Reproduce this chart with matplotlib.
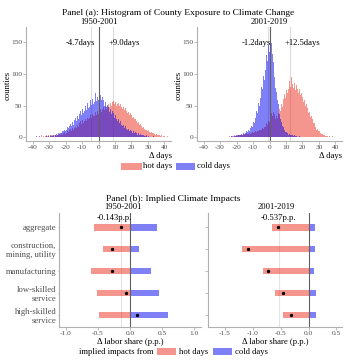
import numpy as np
import matplotlib
matplotlib.use("Agg")
import matplotlib.pyplot as plt
from matplotlib.patches import Rectangle

plt.rcParams['font.family'] = ['Liberation Serif', 'DejaVu Serif']
plt.rcParams['axes.unicode_minus'] = False

# ---------------- data ----------------
bin_start, bin_width = -38.0, 0.5

hot_1950 = [1,0,2,1,0,1,3,1,0,2, 1,2,4,1,2,3,1,2,3,2, 3,2,4,3,5,2,4,3,6,4,
            5,7,4,6,8,5,9,7,10,8, 11,9,13,10,14,12,15,11,16,14, 19,16,22,20,25,21,27,23,28,25,
            29,26,31,28,33,30,35,31,36,33, 37,33,39,35,41,37,42,38,44,40, 44,41,47,43,49,45,50,46,52,48,
            54,49,56,51,57,52,55,50,58,53, 54,49,52,47,50,45,48,43,46,41, 43,38,40,35,38,33,35,30,32,28,
            29,25,26,22,24,19,21,17,18,15, 16,13,14,11,12,10,11,8,9,7, 8,6,7,5,6,4,5,3,4,3,
            3,2,3,1,2,1,2,1,1,2]
cold_1950 = [2,1,0,1,2,0,1,1,0,1, 1,0,2,1,1,2,1,3,2,1, 2,3,1,4,3,5,4,6,5,7,
             8,6,10,9,12,10,14,12,16,14, 18,15,21,17,24,20,27,23,30,26, 33,29,37,32,41,35,45,38,48,42,
             50,43,54,46,56,48,58,51,60,53, 62,55,70,57,64,58,72,56,67,59, 63,53,58,50,55,47,51,43,48,40,
             44,37,41,34,38,31,35,28,32,26, 29,23,26,20,23,18,20,15,18,13, 15,11,13,10,12,8,10,7,9,6,
             8,5,7,4,6,4,5,3,4,3, 4,2,3,2,3,1,2,1,2,1, 1,1,2,0,1,1,0,1,0,1,
             0,1,0,0,1,0,0,1,0,0]
hot_2001 = [1,0,1,0,0,1,0,1,0,0, 1,0,0,1,0,1,1,0,1,0, 1,1,0,1,2,1,1,2,1,2,
            2,1,2,3,2,2,3,2,3,3, 3,4,3,4,5,4,5,4,6,5, 5,6,5,7,6,8,7,8,7,9,
            8,10,9,11,10,12,11,14,13,16, 18,16,22,20,26,24,32,28,38,34, 40,31,36,28,34,30,38,36,44,42,
            52,48,60,56,68,62,75,70,82,76, 88,80,95,84,90,78,86,74,82,76, 80,70,76,66,70,60,64,55,58,50,
            52,44,46,38,40,32,34,26,28,22, 22,16,17,12,13,9,10,7,7,5, 5,3,4,2,3,2,2,1,2,1,
            1,1,2,1,0,1,1,0,1,1]
cold_2001 = [0,1,0,0,1,0,0,0,1,0, 0,0,1,0,0,1,0,0,0,1, 1,0,1,0,1,1,0,1,1,2,
             1,2,1,2,2,3,2,3,3,4, 4,3,5,4,6,5,7,6,9,8, 11,10,14,13,18,16,24,22,32,30,
             42,38,54,50,66,62,80,76,96,90, 112,106,130,120,145,135,150,140,148,132, 118,100,95,78,72,58,52,40,36,28,
             24,18,16,12,11,8,8,6,6,4, 5,3,4,3,3,2,3,2,2,1, 2,1,2,1,1,1,1,0,1,1,
             1,0,1,1,0,1,0,0,1,0, 0,1,0,0,1,0,0,1,0,0, 1,0,0,1,0,0,1,0,0,1,
             0,0,1,0,0,1,0,0,1,0]

mean_lines_1950 = [-4.7, 9.0]
mean_lines_2001 = [-1.2, 12.5]
mean_labels_1950 = ["-4.7days", "+9.0days"]
mean_labels_2001 = ["-1.2days", "+12.5days"]

sectors = ["aggregate", "construction,\nmining, utility", "manufacturing",
           "low-skilled\nservice", "high-skilled\nservice"]
impact_hot_1950 = [-0.56, -0.42, -0.61, -0.52, -0.48]
impact_cold_1950 = [0.42, 0.14, 0.33, 0.45, 0.59]
impact_hot_2001 = [-0.66, -1.20, -0.82, -0.60, -0.46]
impact_cold_2001 = [0.12, 0.12, 0.09, 0.14, 0.14]
agg_label_1950 = "-0.143p.p."
agg_label_2001 = "-0.537p.p."
agg_value_1950 = -0.143
agg_value_2001 = -0.537

# ---------------- style ----------------
W, H = 356, 364
HOT = '#EA2E1E'
COLD = '#0000EE'
ALPHA = 0.5
SPINE = '#b0b0b0'
TICKC = '#4d4d4d'
FS_T = 6.8
FS_L = 6.2
FS = 5.3

fig = plt.figure(figsize=(W/100, H/100), dpi=100)

def fx(x):
    return x / W

def fy(y):
    return 1 - y / H

def make_ax(l, t, r, b):
    return fig.add_axes([fx(l), fy(b), (r - l) / W, (b - t) / H])

def style(ax):
    for s in ['top', 'right']:
        ax.spines[s].set_visible(False)
    for s in ['left', 'bottom']:
        ax.spines[s].set_color(SPINE)
        ax.spines[s].set_linewidth(0.8)
    ax.tick_params(colors=SPINE, labelcolor=TICKC, labelsize=FS, length=2,
                   width=0.6, pad=0.8)

# ---------------- panel (a) ----------------
edges = bin_start + bin_width * np.arange(len(hot_1950))
hist_sets = [(hot_1950, cold_1950, mean_lines_1950, mean_labels_1950, [-11.2, 15.5]),
             (hot_2001, cold_2001, mean_lines_2001, mean_labels_2001, [-7.7, 20.0])]
top_boxes = [(26, 27, 171, 141), (197, 27, 342, 141)]
for (hot, cold, lines, labels, lx), box in zip(hist_sets, top_boxes):
    ax = make_ax(*box)
    ax.bar(edges, hot, width=bin_width, align='edge', color=HOT, alpha=ALPHA, linewidth=0)
    ax.bar(edges, cold, width=bin_width, align='edge', color=COLD, alpha=ALPHA, linewidth=0)
    for v in lines:
        ax.axvline(v, color='#dcdcdc', lw=0.8, zorder=0.5)
    ax.axvline(0, color='#606060', lw=0.8)
    for t, x in zip(labels, lx):
        ax.text(x, 148, t, ha='center', va='center', fontsize=FS_L)
    ax.set_xlim(-44, 44)
    ax.set_ylim(-6, 174)
    ax.set_xticks(np.arange(-40, 41, 10))
    ax.set_yticks([0, 50, 100, 150])
    style(ax)

fig.text(fx(178), fy(13), "Panel (a): Histogram of County Exposure to Climate Change",
         ha='center', va='center', fontsize=FS_T)
fig.text(fx(99), fy(22), "1950-2001", ha='center', va='center', fontsize=FS_L)
fig.text(fx(269), fy(22), "2001-2019", ha='center', va='center', fontsize=FS_L)
fig.text(fx(7.5), fy(85), "counties", rotation=90, ha='center', va='center', fontsize=FS_L)
fig.text(fx(179), fy(85), "counties", rotation=90, ha='center', va='center', fontsize=FS_L)
fig.text(fx(172), fy(156.5), "Δ days", ha='right', va='center', fontsize=FS_L)
fig.text(fx(342), fy(156.5), "Δ days", ha='right', va='center', fontsize=FS_L)

# top legend
fig.patches.append(Rectangle((fx(121), fy(170)), 21 / W, 7 / H, transform=fig.transFigure,
                             color=HOT, alpha=ALPHA, lw=0))
fig.text(fx(143), fy(166.5), "hot days", ha='left', va='center', fontsize=FS_L)
fig.patches.append(Rectangle((fx(176), fy(170)), 19 / W, 7 / H, transform=fig.transFigure,
                             color=COLD, alpha=ALPHA, lw=0))
fig.text(fx(197), fy(166.5), "cold days", ha='left', va='center', fontsize=FS_L)

# ---------------- panel (b) ----------------
ypos = np.arange(len(sectors))
bottom_sets = [(impact_hot_1950, impact_cold_1950, agg_value_1950, agg_label_1950,
                (59, 213, 201, 327), (-1.11, 1.11), [-1.0, -0.5, 0.0, 0.5, 1.0], 114, 130),
               (impact_hot_2001, impact_cold_2001, agg_value_2001, agg_label_2001,
                (208, 213, 342, 327), (-1.8, 0.6), [-1.5, -1.0, -0.5, 0.0, 0.5], 278, 275)]
for i, (hot, cold, agg, lab, box, xl, xt, labx, xlabx) in enumerate(bottom_sets):
    ax = make_ax(*box)
    ax.axvline(agg, color='#e4e4e4', lw=0.8, zorder=0.5)
    ax.barh(ypos, hot, height=0.3, color=HOT, alpha=ALPHA, linewidth=0)
    ax.barh(ypos, cold, height=0.3, color=COLD, alpha=ALPHA, linewidth=0)
    net = np.array(hot) + np.array(cold)
    ax.plot(net, ypos, 'o', color='black', ms=1.4, zorder=5)
    ax.axvline(0, color='#606060', lw=0.8, zorder=4)
    ax.set_xlim(*xl)
    ax.set_ylim(4.55, -0.65)
    ax.set_xticks(xt)
    ax.set_xticklabels([f"{v:.1f}" for v in xt])
    ax.set_yticks(ypos)
    style(ax)
    if i == 0:
        ax.set_yticklabels(sectors, fontsize=FS_L, color=TICKC, linespacing=1.15)
        ax.tick_params(axis='y', length=1, pad=1)
    else:
        ax.set_yticklabels([])
    fig.text(fx(labx), fy(218), lab, ha='center', va='center', fontsize=FS_L)
    fig.text(fx(xlabx), fy(341.5), "Δ labor share (p.p.)",
             ha='center', va='center', fontsize=FS_L)

fig.text(fx(173), fy(199), "Panel (b): Implied Climate Impacts", ha='center', va='center', fontsize=FS_T)
fig.text(fx(123), fy(207), "1950-2001", ha='center', va='center', fontsize=FS_L)
fig.text(fx(276), fy(207), "2001-2019", ha='center', va='center', fontsize=FS_L)

# bottom legend
fig.text(fx(79), fy(352), "implied impacts from", ha='left', va='center', fontsize=FS_L)
fig.patches.append(Rectangle((fx(157), fy(355)), 19 / W, 7 / H, transform=fig.transFigure,
                             color=HOT, alpha=ALPHA, lw=0))
fig.text(fx(179), fy(352), "hot days", ha='left', va='center', fontsize=FS_L)
fig.patches.append(Rectangle((fx(213), fy(355)), 19 / W, 7 / H, transform=fig.transFigure,
                             color=COLD, alpha=ALPHA, lw=0))
fig.text(fx(235), fy(352), "cold days", ha='left', va='center', fontsize=FS_L)

fig.savefig("out.png", dpi=100)
